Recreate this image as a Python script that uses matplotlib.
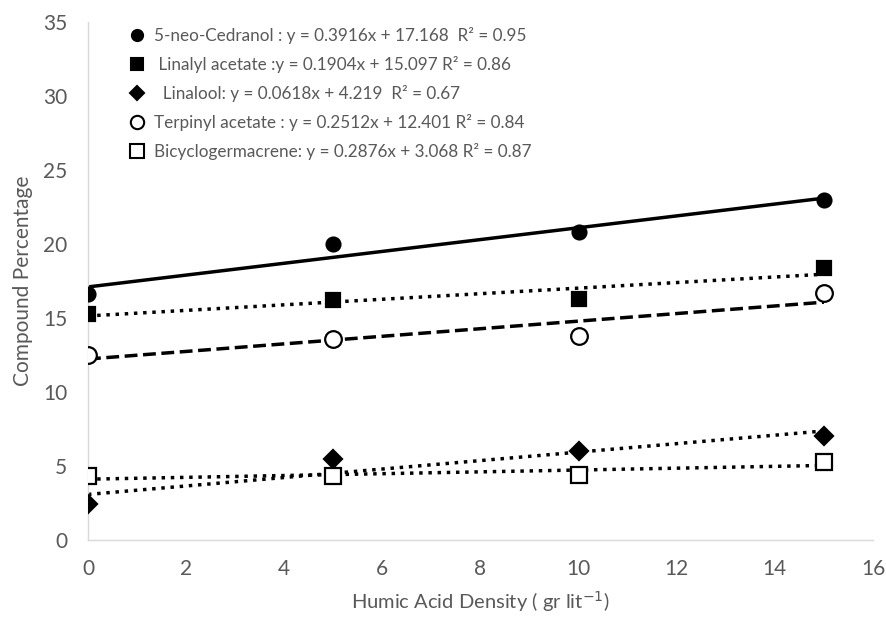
import numpy as np
import matplotlib
matplotlib.use("Agg")
import matplotlib.pyplot as plt
from matplotlib.lines import Line2D

plt.rcParams['font.family'] = ['Lato', 'DejaVu Sans']

x = [0, 5, 10, 15]
cedranol = [16.6, 20.0, 20.8, 23.0]
linalyl_acetate = [15.3, 16.2, 16.3, 18.4]
linalool = [2.4, 5.5, 6.0, 7.0]
terpinyl_acetate = [12.5, 13.6, 13.8, 16.7]
bicyclogermacrene = [4.3, 4.3, 4.4, 5.3]

labels = [
    "5-neo-Cedranol : y = 0.3916x + 17.168  R² = 0.95",
    " Linalyl acetate :y = 0.1904x + 15.097 R² = 0.86",
    "  Linalool: y = 0.0618x + 4.219  R² = 0.67",
    "Terpinyl acetate : y = 0.2512x + 12.401 R² = 0.84",
    "Bicyclogermacrene: y = 0.2876x + 3.068 R² = 0.87",
]

series = [cedranol, linalyl_acetate, linalool, terpinyl_acetate, bicyclogermacrene]
markers = ['o', 's', 'D', 'o', 's']
fills = ['black', 'black', 'black', 'white', 'white']
msizes = [10, 10, 9, 12, 12]
styles = ['-', ':', ':', '--', ':']

fig = plt.figure(figsize=(8.86, 6.2), dpi=100)
ax = fig.add_axes([0.0993, 0.129, 0.886, 0.8355])

gray = '#595959'
xs = np.array([0, 15])
handles = []
for ys, m, fc, ms, ls in zip(series, markers, fills, msizes, styles):
    slope, icpt = np.polyfit(x, ys, 1)
    ax.plot(xs, slope * xs + icpt, color='black', linestyle=ls, linewidth=2.5, zorder=2)
    ax.plot(x, ys, linestyle='none', marker=m, markersize=ms, markerfacecolor=fc,
            markeredgecolor='black', markeredgewidth=1.6, zorder=3)
    handles.append(Line2D([], [], linestyle='none', marker=m, markersize=ms * 0.8,
                          markerfacecolor=fc, markeredgecolor='black', markeredgewidth=1.5))

ax.set_xlim(0, 16)
ax.set_ylim(0, 35)
ax.set_xticks(range(0, 17, 2))
ax.set_yticks(range(0, 36, 5))
for s in ['top', 'right']:
    ax.spines[s].set_visible(False)
for s in ['left', 'bottom']:
    ax.spines[s].set_color('#d9d9d9')
    ax.spines[s].set_linewidth(1)
ax.tick_params(length=0, labelsize=15, colors=gray)
ax.tick_params(axis='y', pad=15)
ax.tick_params(axis='x', pad=14)

ax.set_xlabel("Humic Acid Density ( gr lit$^{-1}$)", fontsize=14.5, color=gray, labelpad=7)
ax.set_ylabel("Compound Percentage", fontsize=15, color=gray, labelpad=7)

leg = ax.legend(handles, labels, loc='upper left', bbox_to_anchor=(0.032, 1.02),
                frameon=False, fontsize=12.3, handletextpad=0.5, labelspacing=0.7,
                handlelength=1.0)
for t in leg.get_texts():
    t.set_color(gray)

fig.savefig("out.png", dpi=100)
